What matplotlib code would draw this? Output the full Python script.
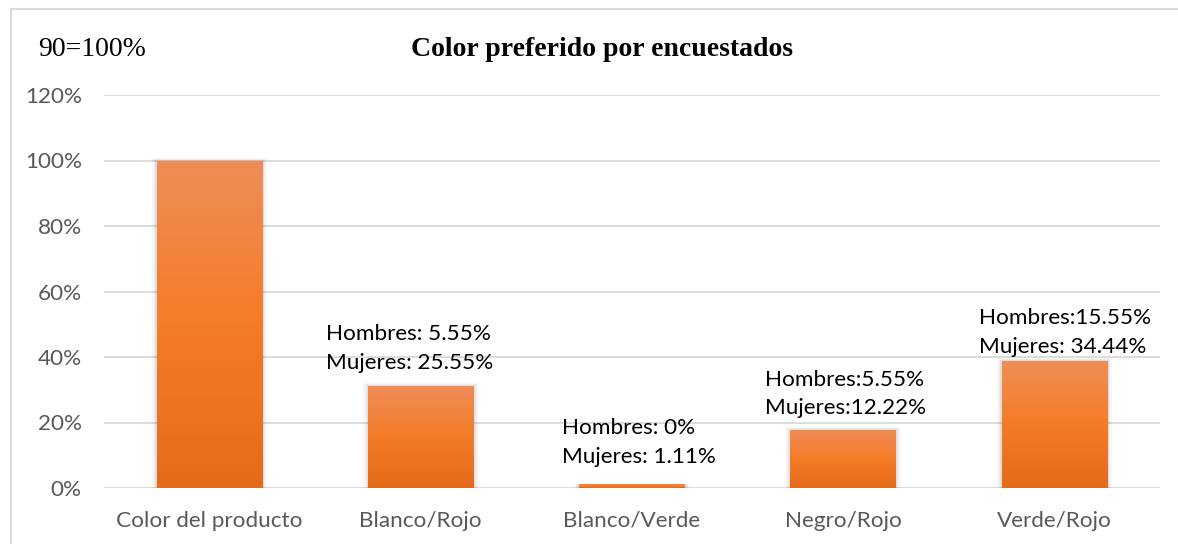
import numpy as np
import matplotlib
matplotlib.use("Agg")
import matplotlib.pyplot as plt
from matplotlib.colors import LinearSegmentedColormap
from matplotlib.patches import Rectangle
from matplotlib.lines import Line2D

# Survey data
categories = ["Color del producto", "Blanco/Rojo", "Blanco/Verde", "Negro/Rojo", "Verde/Rojo"]
values = [100.0, 31.10, 1.11, 17.77, 38.88]
label_texts = [None,
               "Hombres: 5.55%\nMujeres: 25.55%",
               "Hombres: 0%\nMujeres: 1.11%",
               "Hombres:5.55%\nMujeres:12.22%",
               "Hombres:15.55%\nMujeres: 34.44%"]
# label anchor (left x in category units, center y in %)
label_x = [None, 0.55, 1.668, 2.63, 3.645]
label_y = [None, 42.7, 14.0, 28.7, 47.6]
yticks = [0, 20, 40, 60, 80, 100, 120]

SANS = ["Lato", "DejaVu Sans"]
SERIF = ["Liberation Serif", "DejaVu Serif"]

W, H = 1178, 544
fig = plt.figure(figsize=(W / 100, H / 100), dpi=100)
ax = fig.add_axes([104 / W, (H - 488) / H, 1056 / W, 393 / H])

x = np.arange(len(categories))
bars = ax.bar(x, values, width=0.5, color="#F27D26", zorder=3)

grad = LinearSegmentedColormap.from_list(
    "bar", ["#E46B19", "#F47C26", "#EF8D58"])
g = np.linspace(0, 1, 256).reshape(-1, 1)
for b in bars:
    x0, w, h = b.get_x(), b.get_width(), b.get_height()
    # soft shadow around each bar
    for k, a in zip([0.022, 0.014, 0.007], [0.03, 0.045, 0.06]):
        top = h + k * 40 if h > 2 else h
        ax.add_patch(Rectangle((x0 - k, 0), w + 2 * k, top,
                               facecolor="#000000", edgecolor="none",
                               alpha=a, zorder=2))
    im = ax.imshow(g, cmap=grad, origin="lower", aspect="auto",
                   extent=[x0, x0 + w, 0, h], zorder=3.5)
    im.set_clip_path(b)

for lx, ly, t in zip(label_x, label_y, label_texts):
    if t is None:
        continue
    ax.text(lx, ly, t, ha="left", va="center", fontsize=16.2,
            family=SANS, color="#000000", zorder=5, linespacing=1.55)

ax.set_xlim(-0.5, 4.5)
ax.set_ylim(0, 120)
ax.set_yticks(yticks)
ax.set_yticklabels([f"{v}%" for v in yticks], family=SANS, fontsize=16.2, color="#595959")
ax.set_xticks(x)
ax.set_xticklabels(categories, family=SANS, fontsize=16.2, color="#595959")
ax.tick_params(axis="y", length=0, pad=16)
ax.tick_params(axis="x", length=0, pad=16.5)
ax.grid(axis="y", color="#D9D9D9", linewidth=1.3, zorder=0)
ax.set_axisbelow(True)
for s in ax.spines.values():
    s.set_visible(False)

# chart frame (top and left edges)
fig.add_artist(Line2D([11 / W, 11 / W], [0, 1 - 9 / H], transform=fig.transFigure,
                      color="#D9D9D9", linewidth=1.5))
fig.add_artist(Line2D([11 / W, 1], [1 - 9 / H, 1 - 9 / H], transform=fig.transFigure,
                      color="#D9D9D9", linewidth=1.5))

fig.text(602 / W, 1 - 49 / H, "Color preferido por encuestados", ha="center", va="center",
         family=SERIF, fontweight="bold", fontsize=20, color="#000000")
fig.text(38 / W, 1 - 49 / H, "90=100%", ha="left", va="center",
         family=SERIF, fontsize=20, color="#000000")

fig.savefig("out.png", dpi=100, facecolor="white")
